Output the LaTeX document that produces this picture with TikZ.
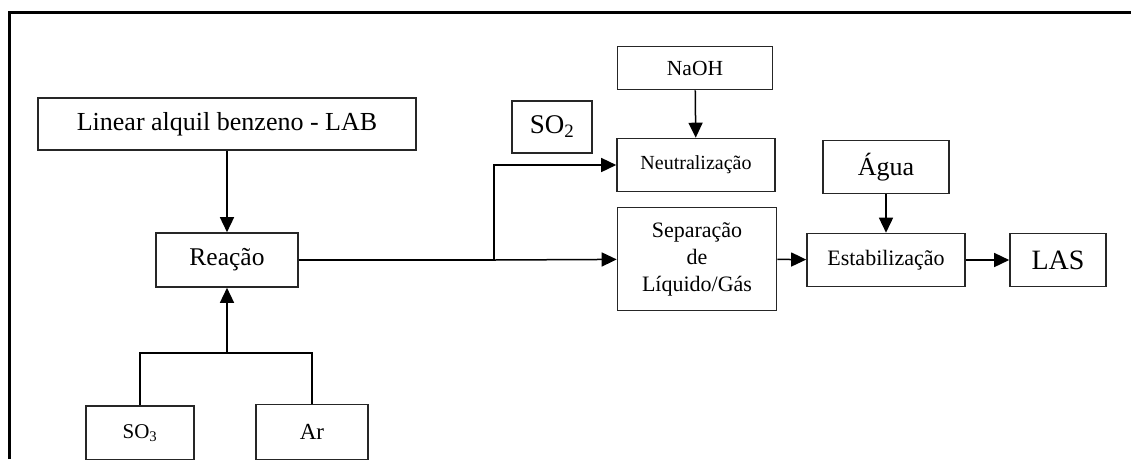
\documentclass[tikz,border=0pt]{standalone}
\usepackage{fontspec}
\setmainfont{Liberation Serif}
\usetikzlibrary{arrows.meta}

\tikzset{
  etapa/.style={draw=black!85, line width=1.6pt, inner sep=0pt, align=center},
  fluxo/.style={line width=1.5pt, -{Triangle[length=15pt,width=14pt]}},
  linha/.style={line width=1.5pt}
}

\begin{document}
\begin{tikzpicture}[x=1pt, y=-1pt]
  % area of the picture
  \useasboundingbox (0,0) rectangle (1131,459);
  \draw[line width=3pt] (9,459) -- (9,12) -- (1131,12);

  % boxes
  \node[etapa, minimum width=378pt, minimum height=52pt, font=\fontsize{26}{28}\selectfont] (lab) at (227,124) {Linear alquil benzeno - LAB};
  \node[etapa, minimum width=142pt, minimum height=54pt, font=\fontsize{25.5}{27}\selectfont] (reacao) at (227,260) {Reação};
  \node[etapa, minimum width=108pt, minimum height=54pt, font=\fontsize{21}{23}\selectfont] (so3) at (140,433) {SO\textsubscript{3}};
  \node[etapa, minimum width=112pt, minimum height=55pt, font=\fontsize{23}{25}\selectfont] (ar) at (312,432) {Ar};
  \node[etapa, minimum width=80pt, minimum height=52pt, font=\fontsize{27}{29}\selectfont] (so2) at (552,127) {SO\textsubscript{2}};
  \node[etapa, minimum width=155pt, minimum height=43pt, font=\fontsize{21.5}{23}\selectfont] (naoh) at (695,68) {NaOH};
  \node[etapa, minimum width=158pt, minimum height=53pt, font=\fontsize{20}{22}\selectfont] (neut) at (696,165) {Neutralização};
  \node[etapa, minimum width=159pt, minimum height=103pt, font=\fontsize{22}{27}\selectfont] (sep) at (697,259) {Separação\\de\\Líquido/Gás};
  \node[etapa, minimum width=126pt, minimum height=53pt, font=\fontsize{26}{28}\selectfont] (agua) at (886,167) {Água};
  \node[etapa, minimum width=158pt, minimum height=53pt, font=\fontsize{22}{24}\selectfont] (estab) at (886,260) {Estabilização};
  \node[etapa, minimum width=96pt, minimum height=53pt, font=\fontsize{28}{30}\selectfont] (las) at (1058,260) {LAS};

  % junctions
  \coordinate (junta) at (227,353);
  \coordinate (divide) at (494,260);

  % connectors
  \draw[fluxo] (lab) -- (reacao);
  \draw[linha] (so3.north) |- (junta);
  \draw[linha] (ar.north) |- (junta);
  \draw[fluxo] (junta) -- (reacao.south);
  \draw[linha] (reacao) -- (divide);
  \draw[fluxo] (divide) -- (sep);
  \draw[fluxo] (divide) |- (neut.west);
  \draw[fluxo] (naoh) -- (neut);
  \draw[fluxo] (sep) -- (estab);
  \draw[fluxo] (agua) -- (estab);
  \draw[fluxo] (estab) -- (las);
\end{tikzpicture}
\end{document}
